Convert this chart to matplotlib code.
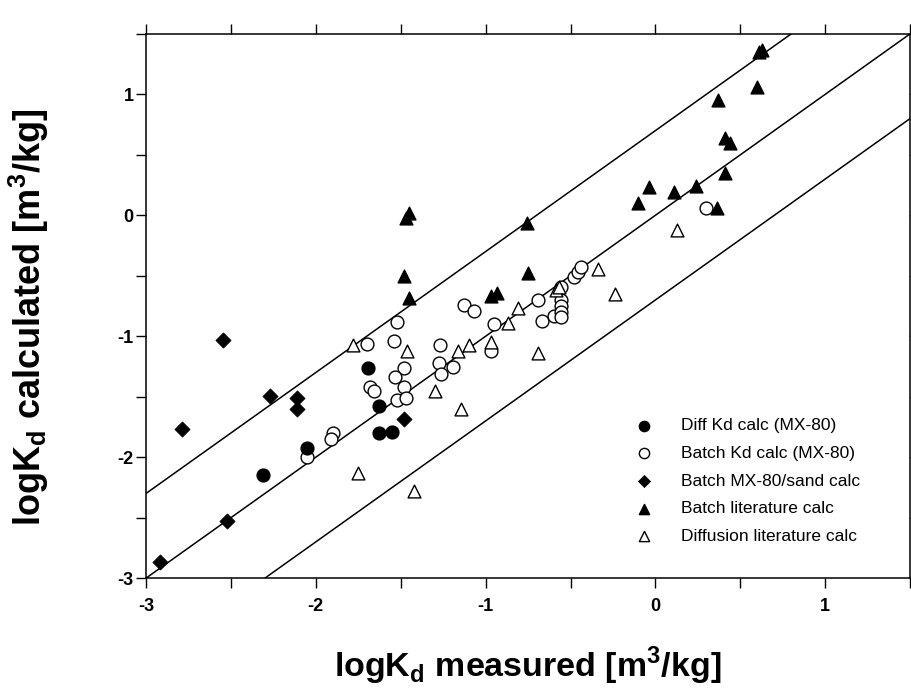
import numpy as np
import matplotlib
matplotlib.use("Agg")
from matplotlib import pyplot as plt

# values (log Kd, m3/kg)
diff_x = [-2.31, -2.05, -1.69, -1.63, -1.63, -1.55]
diff_y = [-2.15, -1.92, -1.26, -1.58, -1.80, -1.79]

batch_x = [-2.05, -1.90, -1.91, -1.70, -1.52, -1.54, -1.48, -1.535, -1.68, -1.655,
           -1.48, -1.52, -1.47, -1.13, -1.07, -1.27, -1.275, -1.26, -1.19, -0.95,
           -0.97, -0.69, -0.67, -0.48, -0.455, -0.44, -0.555, -0.595, -0.555,
           -0.555, -0.555, -0.555, 0.30]
batch_y = [-2.00, -1.80, -1.85, -1.06, -0.88, -1.04, -1.26, -1.34, -1.42, -1.45,
           -1.42, -1.53, -1.51, -0.74, -0.79, -1.07, -1.22, -1.31, -1.25, -0.90,
           -1.12, -0.70, -0.87, -0.51, -0.47, -0.43, -0.59, -0.83, -0.70,
           -0.75, -0.80, -0.84, 0.06]

sand_x = [-2.545, -2.79, -2.27, -2.11, -2.11, -2.52, -2.92, -1.48]
sand_y = [-1.03, -1.77, -1.49, -1.51, -1.60, -2.53, -2.87, -1.68]

lit_x = [-1.45, -1.47, -1.48, -1.45, -0.755, -0.75, -0.97, -0.93, 0.37, 0.41,
         0.44, 0.41, -0.04, -0.10, 0.107, 0.237, 0.36, 0.61, 0.63, 0.60]
lit_y = [0.02, -0.02, -0.50, -0.68, -0.06, -0.48, -0.67, -0.64, 0.95, 0.64,
         0.60, 0.35, 0.23, 0.10, 0.19, 0.24, 0.06, 1.35, 1.37, 1.06]

difflit_x = [-1.78, -1.46, -1.30, -1.16, -1.10, -1.145, -1.75, -1.42, -0.97, -0.87,
             -0.81, -0.69, -0.585, -0.34, -0.24, 0.125, -0.57]
difflit_y = [-1.07, -1.12, -1.45, -1.12, -1.07, -1.60, -2.13, -2.28, -1.05, -0.89,
             -0.77, -1.14, -0.62, -0.44, -0.65, -0.12, -0.59]

band = 0.7  # +/- band around 1:1 line

plt.rcParams['font.family'] = ['Liberation Sans', 'DejaVu Sans']
plt.rcParams['axes.unicode_minus'] = False
plt.rcParams['mathtext.fontset'] = 'custom'
plt.rcParams['mathtext.bf'] = 'Liberation Sans:bold'
plt.rcParams['mathtext.rm'] = 'Liberation Sans'

fig = plt.figure(figsize=(9.12, 6.9), dpi=100)
ax = fig.add_axes([0.160, 0.162, 0.838, 0.789])

lx = np.array([-3.0, 1.5])
for off in (band, 0.0, -band):
    ax.plot(lx, lx + off, color='black', lw=1.1, zorder=1)

ms = 85
ax.scatter(diff_x, diff_y, s=ms, marker='o', facecolor='black', edgecolor='black',
           lw=1, label='Diff Kd calc (MX-80)', zorder=3)
ax.scatter(batch_x, batch_y, s=ms, marker='o', facecolor='white', edgecolor='black',
           lw=1, label='Batch Kd calc (MX-80)', zorder=2)
ax.scatter(sand_x, sand_y, s=60, marker='D', facecolor='black', edgecolor='black',
           lw=0.5, label='Batch MX-80/sand calc', zorder=3)
ax.scatter(lit_x, lit_y, s=ms, marker='^', facecolor='black', edgecolor='black',
           lw=1, label='Batch literature calc', zorder=3)
ax.scatter(difflit_x, difflit_y, s=ms, marker='^', facecolor='white', edgecolor='black',
           lw=1, label='Diffusion literature calc', zorder=2)

ax.set_xlim(-3, 1.5)
ax.set_ylim(-3, 1.5)
ax.set_xticks([-3, -2, -1, 0, 1])
ax.set_yticks([-3, -2, -1, 0, 1])
ax.set_xticks(np.arange(-2.5, 1.6, 1.0), minor=True)
ax.set_yticks(np.arange(-2.5, 1.6, 1.0), minor=True)
ax.tick_params(axis='x', which='both', direction='out', length=7.5, width=1,
               top=True, labelsize=13, pad=7)
ax.tick_params(axis='y', which='both', direction='out', length=7, width=1,
               right=True, labelsize=13, pad=2)
for lab in ax.get_xticklabels() + ax.get_yticklabels():
    lab.set_fontweight('bold')
for sp in ax.spines.values():
    sp.set_linewidth(1.1)

ax.set_xlabel(r'logK$_\mathbf{d}$ measured [m$^\mathbf{3}$/kg]', fontsize=24.5,
              fontweight='bold')
ax.set_ylabel(r'logK$_\mathbf{d}$ calculated [m$^\mathbf{3}$/kg]', fontsize=26,
              fontweight='bold')
ax.xaxis.set_label_coords(0.5, -0.122)
ax.yaxis.set_label_coords(-0.124, 0.48)

leg = ax.legend(loc='upper left', bbox_to_anchor=(0.641, 0.294), frameon=False,
                fontsize=12.5, handlelength=1.0, handletextpad=1.6,
                labelspacing=0.72, borderpad=0, borderaxespad=0,
                scatterpoints=1, markerscale=0.8)

fig.savefig('out.png', dpi=100)
